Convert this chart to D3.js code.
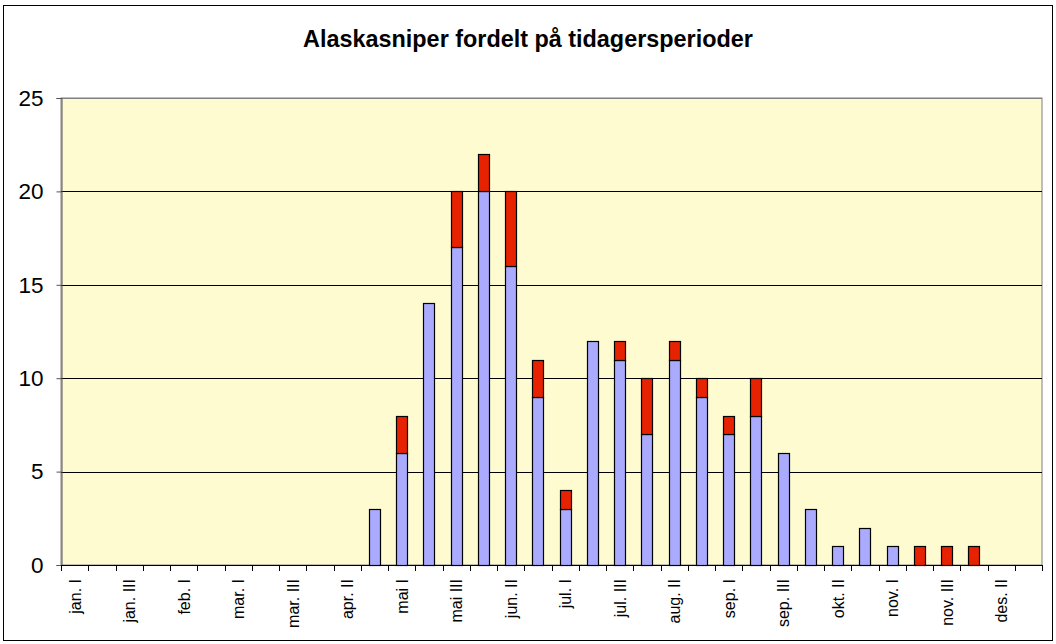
<!DOCTYPE html>
<html>
<head>
<meta charset="utf-8">
<script src="https://cdn.jsdelivr.net/npm/d3@7"></script>
<style>
  html, body { margin: 0; padding: 0; background: #fff; }
  svg { display: block; font-family: "Liberation Sans", Arial, sans-serif; }
</style>
</head>
<body>
<svg id="chart" width="1056" height="644"></svg>
<script>
const title = "Alaskasniper fordelt på tidagersperioder";
const categories = [
  "jan. I","jan. II","jan. III","feb. I","feb. I","feb. III",
  "mar. I","mar. II","mar. III","apr. I","apr. II","apr. III",
  "mai I","mai II","mai III","jun. I","jun. II","jun. III",
  "jul. I","jul. II","jul. III","aug. I","aug. II","aug. III",
  "sep. I","sep. II","sep. III","okt. I","okt. II","okt. III",
  "nov. I","nov. II","nov. III","des. I","des. II","des. III"
];
const blueValues = [0,0,0,0,0,0, 0,0,0,0,0,3, 6,14,17,20,16,9, 3,12,11,7,11,9, 7,8,6,3,1,2, 1,0,0,0,0,0];
const redValues  = [0,0,0,0,0,0, 0,0,0,0,0,0, 2,0,3,2,4,2, 1,0,1,3,1,1, 1,2,0,0,0,0, 0,1,1,1,0,0];
const yTicks = [0,5,10,15,20,25];
const seriesColors = ["#AAAAFF", "#E62200"];

const svg = d3.select("#chart");
const m = {left: 61, top: 98, right: 1042, bottom: 565};

// outer border
svg.append("rect").attr("x", 3.5).attr("y", 5.5).attr("width", 1049).attr("height", 635)
  .attr("fill", "#fff").attr("stroke", "#000").attr("stroke-width", 1);

svg.append("text").attr("x", 528).attr("y", 47).attr("text-anchor", "middle")
  .attr("font-size", 23.4).attr("font-weight", "bold").text(title);

const idx = d3.range(categories.length);
const x = d3.scaleBand().domain(idx).range([m.left, m.right]).paddingInner(0).paddingOuter(0);
const y = d3.scaleLinear().domain([0, 25]).range([m.bottom, m.top]);

// plot background
svg.append("rect").attr("x", m.left).attr("y", m.top)
  .attr("width", m.right - m.left).attr("height", m.bottom - m.top)
  .attr("fill", "#FFFBD0").attr("stroke", "#808080").attr("stroke-width", 1);

// gridlines
svg.append("g").selectAll("line").data(yTicks.filter(d => d > 0)).join("line")
  .attr("x1", m.left).attr("x2", m.right)
  .attr("y1", d => Math.round(y(d)) + 0.5).attr("y2", d => Math.round(y(d)) + 0.5)
  .attr("stroke", d => d === 25 ? "#808080" : "#000").attr("stroke-width", 1);

// bars
const stack = d3.stack().keys([0, 1]).value((i, k) => k === 0 ? blueValues[i] : redValues[i]);
const layers = stack(idx);
const bw = x.bandwidth() / 2.5;
layers.forEach((layer, k) => {
  svg.append("g").selectAll("rect").data(layer.map((d, i) => ({d, i})).filter(o => o.d[1] - o.d[0] > 0))
    .join("rect")
    .attr("x", o => Math.round(x(o.i) + (x.bandwidth() - bw) / 2) + 0.5)
    .attr("width", Math.round(bw))
    .attr("y", o => Math.round(y(o.d[1])) + 0.5)
    .attr("height", o => Math.round(y(o.d[0])) - Math.round(y(o.d[1])))
    .attr("fill", seriesColors[k]).attr("stroke", "#000").attr("stroke-width", 1.2);
});

// y axis
const yAxis = d3.axisLeft(y).tickValues(yTicks).tickSize(5).tickPadding(13).tickFormat(d3.format("d"));
const gy = svg.append("g").attr("transform", `translate(${m.left + 0.5},0)`).call(yAxis);
gy.select(".domain").attr("stroke", "#555");
gy.selectAll(".tick line").attr("stroke", "#555");
gy.selectAll(".tick text").attr("font-size", 22.5).attr("fill", "#000")
  .attr("font-family", "Liberation Sans, Arial, sans-serif");

// x axis baseline
svg.append("line").attr("x1", m.left).attr("x2", m.right + 0.5)
  .attr("y1", m.bottom + 0.5).attr("y2", m.bottom + 0.5).attr("stroke", "#000");

// x ticks at category boundaries
const boundaries = d3.range(categories.length + 1).map(i => m.left + i * x.bandwidth());
svg.append("g").selectAll("line").data(boundaries).join("line")
  .attr("x1", d => Math.round(d) + 0.5).attr("x2", d => Math.round(d) + 0.5)
  .attr("y1", m.bottom).attr("y2", m.bottom + 6).attr("stroke", "#000");

// x labels (every other category)
svg.append("g").selectAll("text").data(idx.filter(i => i % 2 === 0)).join("text")
  .attr("transform", i => `translate(${x(i) + x.bandwidth() / 2 + 6},579) rotate(-90)`)
  .attr("text-anchor", "end").attr("font-size", 16).attr("fill", "#000")
  .text(i => categories[i]);
</script>
</body>
</html>
